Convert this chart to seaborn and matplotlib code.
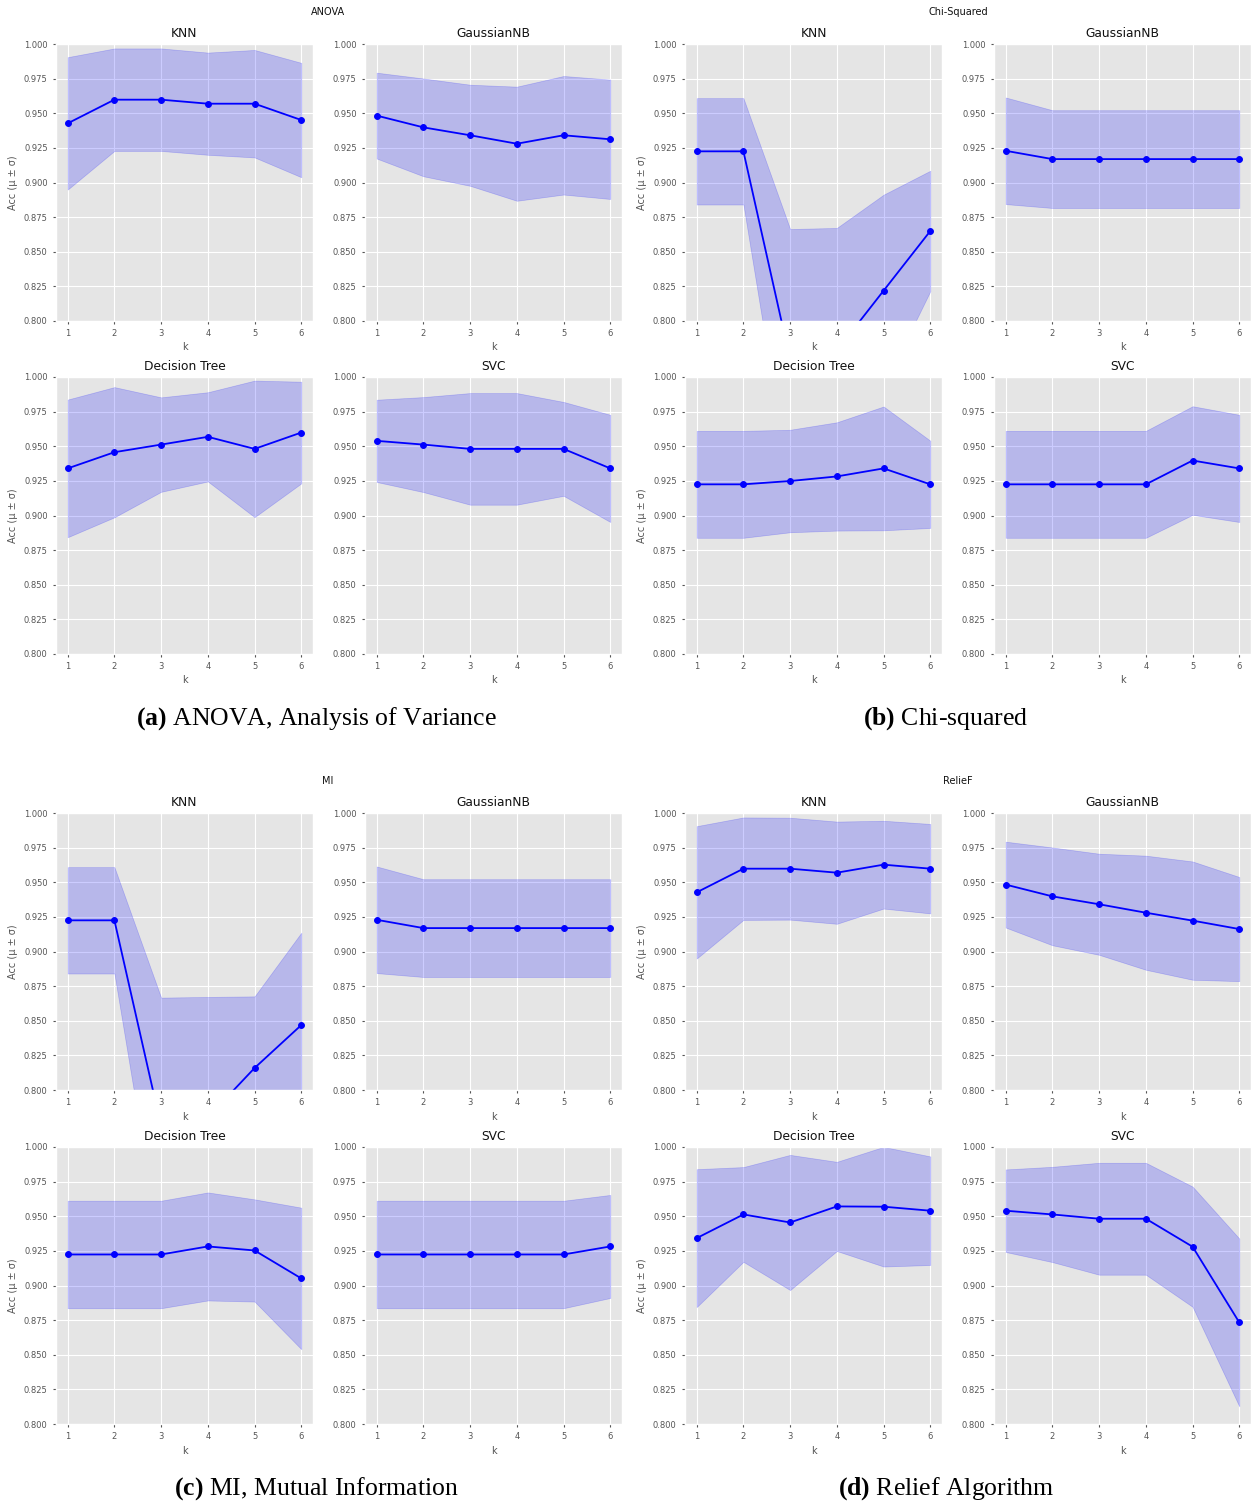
import numpy as np
import pandas as pd
import matplotlib
matplotlib.use("Agg")
import matplotlib.pyplot as plt
from matplotlib.ticker import FormatStrFormatter
import seaborn as sns

# Number of selected features
k_values = [1, 2, 3, 4, 5, 6]
classifiers = ["KNN", "GaussianNB", "Decision Tree", "SVC"]

# ANOVA: mean accuracy and standard deviation per k
anova_knn_mean = [0.9427, 0.9598, 0.9598, 0.9569, 0.9569, 0.9451]
anova_knn_std = [0.0478, 0.0370, 0.0370, 0.0369, 0.0388, 0.0413]
anova_gnb_mean = [0.9483, 0.9398, 0.9341, 0.9280, 0.9341, 0.9312]
anova_gnb_std = [0.0310, 0.0353, 0.0365, 0.0412, 0.0428, 0.0431]
anova_dt_mean = [0.9340, 0.9457, 0.9512, 0.9568, 0.9481, 0.9599]
anova_dt_std = [0.0497, 0.0470, 0.0341, 0.0322, 0.0493, 0.0367]
anova_svc_mean = [0.9539, 0.9512, 0.9481, 0.9481, 0.9481, 0.9340]
anova_svc_std = [0.0297, 0.0343, 0.0403, 0.0403, 0.0339, 0.0387]

# Chi-squared
chi_knn_mean = [0.9225, 0.9225, 0.7720, 0.7787, 0.8219, 0.8650]
chi_knn_std = [0.0384, 0.0384, 0.0944, 0.0885, 0.0693, 0.0435]
chi_gnb_mean = [0.9229, 0.9169, 0.9169, 0.9169, 0.9169, 0.9169]
chi_gnb_std = [0.0385, 0.0353, 0.0353, 0.0353, 0.0353, 0.0353]
chi_dt_mean = [0.9225, 0.9225, 0.9249, 0.9282, 0.9340, 0.9225]
chi_dt_std = [0.0386, 0.0386, 0.0370, 0.0391, 0.0447, 0.0315]
chi_svc_mean = [0.9225, 0.9225, 0.9225, 0.9225, 0.9397, 0.9340]
chi_svc_std = [0.0386, 0.0386, 0.0386, 0.0386, 0.0392, 0.0387]

# Mutual information
mi_knn_mean = [0.9225, 0.9225, 0.7737, 0.7802, 0.8159, 0.8469]
mi_knn_std = [0.0384, 0.0384, 0.0930, 0.0870, 0.0517, 0.0667]
mi_gnb_mean = [0.9229, 0.9169, 0.9169, 0.9169, 0.9169, 0.9169]
mi_gnb_std = [0.0385, 0.0353, 0.0353, 0.0353, 0.0353, 0.0353]
mi_dt_mean = [0.9224, 0.9224, 0.9224, 0.9282, 0.9253, 0.9051]
mi_dt_std = [0.0388, 0.0388, 0.0388, 0.0390, 0.0369, 0.0511]
mi_svc_mean = [0.9224, 0.9224, 0.9224, 0.9224, 0.9224, 0.9282]
mi_svc_std = [0.0388, 0.0388, 0.0388, 0.0388, 0.0388, 0.0372]

# ReliefF
relief_knn_mean = [0.9427, 0.9598, 0.9598, 0.9569, 0.9627, 0.9598]
relief_knn_std = [0.0478, 0.0370, 0.0368, 0.0369, 0.0317, 0.0323]
relief_gnb_mean = [0.9483, 0.9398, 0.9341, 0.9280, 0.9223, 0.9162]
relief_gnb_std = [0.0310, 0.0353, 0.0365, 0.0412, 0.0427, 0.0376]
relief_dt_mean = [0.9342, 0.9513, 0.9455, 0.9571, 0.9569, 0.9540]
relief_dt_std = [0.0498, 0.0342, 0.0488, 0.0322, 0.0432, 0.0392]
relief_svc_mean = [0.9540, 0.9513, 0.9482, 0.9482, 0.9280, 0.8733]
relief_svc_std = [0.0298, 0.0344, 0.0404, 0.0404, 0.0434, 0.0606]

methods = ["ANOVA", "Chi-Squared", "MI", "RelieF"]
captions = [
    r"$\mathbf{(a)}$ ANOVA, Analysis of Variance",
    r"$\mathbf{(b)}$ Chi-squared",
    r"$\mathbf{(c)}$ MI, Mutual Information",
    r"$\mathbf{(d)}$ Relief Algorithm",
]
results = [
    [(anova_knn_mean, anova_knn_std), (anova_gnb_mean, anova_gnb_std),
     (anova_dt_mean, anova_dt_std), (anova_svc_mean, anova_svc_std)],
    [(chi_knn_mean, chi_knn_std), (chi_gnb_mean, chi_gnb_std),
     (chi_dt_mean, chi_dt_std), (chi_svc_mean, chi_svc_std)],
    [(mi_knn_mean, mi_knn_std), (mi_gnb_mean, mi_gnb_std),
     (mi_dt_mean, mi_dt_std), (mi_svc_mean, mi_svc_std)],
    [(relief_knn_mean, relief_knn_std), (relief_gnb_mean, relief_gnb_std),
     (relief_dt_mean, relief_dt_std), (relief_svc_mean, relief_svc_std)],
]

plt.style.use("ggplot")
plt.rcParams.update({
    "font.family": ["DejaVu Sans"],
    "mathtext.fontset": "custom",
    "mathtext.rm": "Liberation Serif",
    "mathtext.bf": "Liberation Serif:bold",
    "xtick.labelsize": 6.0,
    "ytick.labelsize": 6.0,
    "axes.labelsize": 7.0,
    "axes.titlesize": 8.8,
    "xtick.major.size": 2.5,
    "ytick.major.size": 2.5,
})

W, H = 1253, 1503
fig = plt.figure(figsize=(W / 100, H / 100), dpi=100)

col_left = [56, 365, 685, 994]
row_top = [44, 377, 813, 1147]
ax_w, ax_h = 257, 277

# method index -> (first column, first row)
panel_origin = [(0, 0), (2, 0), (0, 2), (2, 2)]
suptitle_xy = [(328, 12), (958, 12), (328, 781), (958, 781)]
caption_xy = [(316, 719), (946, 719), (316, 1489), (946, 1489)]

for m, method in enumerate(methods):
    c0, r0 = panel_origin[m]
    for i, clf in enumerate(classifiers):
        col = c0 + i % 2
        row = r0 + i // 2
        left = col_left[col] / W
        bottom = 1 - (row_top[row] + ax_h) / H
        ax = fig.add_axes([left, bottom, ax_w / W, ax_h / H])
        mean, std = results[m][i]
        df = pd.DataFrame({"k": k_values, "acc": mean, "sd": std})
        lo = df["acc"] - df["sd"]
        hi = df["acc"] + df["sd"]
        ax.fill_between(df["k"], lo, hi, color="blue", alpha=0.2)
        sns.lineplot(data=df, x="k", y="acc", ax=ax, color="blue",
                     marker="o", markersize=4.2, markeredgecolor="blue",
                     linewidth=1.3, errorbar=None)
        ax.set_ylim(0.8, 1.0)
        ax.set_xlim(0.75, 6.25)
        ax.set_yticks(np.arange(0.8, 1.0001, 0.025))
        ax.yaxis.set_major_formatter(FormatStrFormatter("%.3f"))
        ax.set_xticks(k_values)
        ax.set_title(clf, color="#111111", pad=5)
        ax.set_xlabel("k", labelpad=3)
        if i % 2 == 0:
            ax.set_ylabel("Acc (\u03bc \u00b1 \u03c3)", labelpad=4)
        else:
            ax.set_ylabel("")
    sx, sy = suptitle_xy[m]
    fig.text(sx / W, 1 - sy / H, method, ha="center", va="center",
             fontsize=7, color="#111111")
    cx, cy = caption_xy[m]
    fig.text(cx / W, 1 - cy / H, captions[m], ha="center", va="center",
             fontsize=18.5, family="Liberation Serif", color="black")

fig.savefig("out.png", dpi=100, facecolor="white")
